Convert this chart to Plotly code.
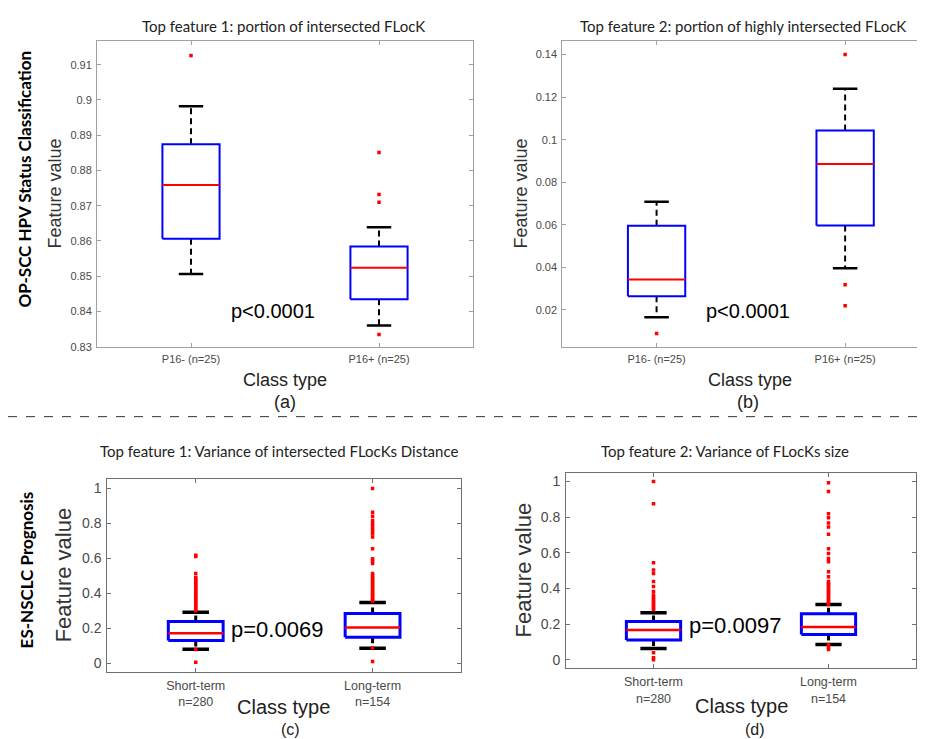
import plotly.graph_objects as go

# ---------------- data ----------------
A_CATS = ["P16- (n=25)", "P16+ (n=25)"]
A_Q1 = [0.8606, 0.8435]
A_MED = [0.8759, 0.8524]
A_Q3 = [0.8874, 0.8584]
A_LO = [0.8506, 0.8360]
A_HI = [0.8982, 0.8639]
A_OUT = [[0.9126], [0.8851, 0.8732, 0.8710, 0.8335]]

B_CATS = ["P16- (n=25)", "P16+ (n=25)"]
B_Q1 = [0.0264, 0.0597]
B_MED = [0.0343, 0.0886]
B_Q3 = [0.0596, 0.1043]
B_LO = [0.0166, 0.0396]
B_HI = [0.0708, 0.1239]
B_OUT = [[0.0089], [0.140, 0.0318, 0.022]]

C_CATS = ["Short-term<br>n=280", "Long-term<br>n=154"]
C_Q1 = [0.1288, 0.1477]
C_MED = [0.1705, 0.2045]
C_Q3 = [0.2386, 0.284]
C_LO = [0.0795, 0.0852]
C_HI = [0.2917, 0.3466]
C_OUT = [
    [0.617, 0.61, 0.513, 0.49, 0.48, 0.47, 0.46, 0.45, 0.44, 0.43, 0.42, 0.41,
     0.40, 0.39, 0.38, 0.37, 0.36, 0.35, 0.34, 0.33, 0.32, 0.31, 0.30, 0.078, 0.005],
    [1.0, 0.864, 0.84, 0.816, 0.80, 0.788, 0.77, 0.759, 0.74, 0.722, 0.655, 0.598,
     0.585, 0.570, 0.513, 0.50, 0.49, 0.48, 0.47, 0.46, 0.45, 0.44, 0.43, 0.42,
     0.41, 0.40, 0.39, 0.38, 0.37, 0.36, 0.355, 0.087, 0.01],
]

D_CATS = ["Short-term<br>n=280", "Long-term<br>n=154"]
D_Q1 = [0.111, 0.141]
D_MED = [0.167, 0.184]
D_Q3 = [0.215, 0.258]
D_LO = [0.063, 0.085]
D_HI = [0.263, 0.310]
D_OUT = [
    [1.0, 0.874, 0.544, 0.503, 0.484, 0.438, 0.41, 0.382, 0.363, 0.35, 0.34, 0.33,
     0.32, 0.31, 0.30, 0.29, 0.28, 0.039, 0.011, 0.0],
    [0.993, 0.944, 0.818, 0.796, 0.766, 0.744, 0.703, 0.623, 0.595, 0.568, 0.549,
     0.494, 0.466, 0.438, 0.428, 0.42, 0.41, 0.40, 0.39, 0.38, 0.37, 0.36, 0.35,
     0.34, 0.33, 0.32, 0.31, 0.085, 0.07, 0.057],
]

TITLES = [
    "Top feature 1: portion of intersected FLocK",
    "Top feature 2: portion of highly intersected FLocK",
    "Top feature 1: Variance of intersected FLocKs Distance",
    "Top feature 2: Variance of FLocKs size",
]
PVALS = ["p<0.0001", "p<0.0001", "p=0.0069", "p=0.0097"]
LETTERS = ["(a)", "(b)", "(c)", "(d)"]

W, H = 925, 739
fig = go.Figure()


def add_boxplot(ax, q1, med, q3, lo, hi, outs, bw, cw, lw, msize):
    xa = "x" if ax == 1 else f"x{ax}"
    ya = "y" if ax == 1 else f"y{ax}"
    bx, by, mx, my, wx, wy, cx, cy, ox, oy = [], [], [], [], [], [], [], [], [], []
    for i in range(len(q1)):
        p = i + 1
        bx += [p - bw, p + bw, p + bw, p - bw, p - bw, None]
        by += [q1[i], q1[i], q3[i], q3[i], q1[i], None]
        mx += [p - bw, p + bw, None]
        my += [med[i], med[i], None]
        wx += [p, p, None, p, p, None]
        wy += [q3[i], hi[i], None, q1[i], lo[i], None]
        cx += [p - cw, p + cw, None, p - cw, p + cw, None]
        cy += [hi[i], hi[i], None, lo[i], lo[i], None]
        for v in outs[i]:
            ox.append(p)
            oy.append(v)
    common = dict(xaxis=xa, yaxis=ya, showlegend=False, hoverinfo="skip")
    fig.add_trace(go.Scatter(x=wx, y=wy, mode="lines",
                             line=dict(color="black", width=lw, dash="6px,4px"), **common))
    fig.add_trace(go.Scatter(x=cx, y=cy, mode="lines",
                             line=dict(color="black", width=lw + 0.5), **common))
    fig.add_trace(go.Scatter(x=bx, y=by, mode="lines", fill="toself", fillcolor="white",
                             line=dict(color="#0000ff", width=lw), **common))
    fig.add_trace(go.Scatter(x=mx, y=my, mode="lines",
                             line=dict(color="#ff0000", width=lw - 0.5 if lw > 2 else lw), **common))
    fig.add_trace(go.Scatter(x=ox, y=oy, mode="markers",
                             marker=dict(color="#ff0000", size=msize, symbol="square"), **common))


add_boxplot(1, A_Q1, A_MED, A_Q3, A_LO, A_HI, A_OUT, 0.152, 0.065, 2, 3.5)
add_boxplot(2, B_Q1, B_MED, B_Q3, B_LO, B_HI, B_OUT, 0.152, 0.065, 2, 3.5)
add_boxplot(3, C_Q1, C_MED, C_Q3, C_LO, C_HI, C_OUT, 0.155, 0.075, 3, 3.5)
add_boxplot(4, D_Q1, D_MED, D_Q3, D_LO, D_HI, D_OUT, 0.155, 0.075, 3, 3.5)


def dom_x(a, b):
    return [a / W, min(b / W, 1.0)]


def dom_y(top, bot):
    return [1 - bot / H, 1 - top / H]


TICKCOL = "#4a4a4a"
axis_specs = [
    dict(xd=(89, 465), yd=(33, 341.5), xr=[0.5, 2.5], yr=[0.83, 0.9168],
         ytv=[0.83, 0.84, 0.85, 0.86, 0.87, 0.88, 0.89, 0.9, 0.91],
         ytt=["0.83", "0.84", "0.85", "0.86", "0.87", "0.88", "0.89", "0.9", "0.91"],
         cats=A_CATS, yfs=11, xfs=11, lc="#a0a0a0", mirror_y="ticks"),
    dict(xd=(554.3, 925), yd=(33, 341.5), xr=[0.5, 2.466], yr=[0.0027, 0.1465],
         ytv=[0.02, 0.04, 0.06, 0.08, 0.1, 0.12, 0.14],
         ytt=["0.02", "0.04", "0.06", "0.08", "0.1", "0.12", "0.14"],
         cats=B_CATS, yfs=11, xfs=11, lc="#a0a0a0", mirror_y=False),
    dict(xd=(99.3, 453), yd=(475, 669.3), xr=[0.5, 2.5], yr=[-0.05, 1.053],
         ytv=[0, 0.2, 0.4, 0.6, 0.8, 1], ytt=["0", "0.2", "0.4", "0.6", "0.8", "1"],
         cats=C_CATS, yfs=14, xfs=12.5, lc="#707070", mirror_y="ticks"),
    dict(xd=(558, 908), yd=(469, 665.7), xr=[0.5, 2.5], yr=[-0.048, 1.046],
         ytv=[0, 0.2, 0.4, 0.6, 0.8, 1], ytt=["0", "0.2", "0.4", "0.6", "0.8", "1"],
         cats=D_CATS, yfs=14, xfs=12.5, lc="#707070", mirror_y="ticks"),
]

layout_axes = {}
for k, s in enumerate(axis_specs, start=1):
    xn = "xaxis" if k == 1 else f"xaxis{k}"
    yn = "yaxis" if k == 1 else f"yaxis{k}"
    ya = "y" if k == 1 else f"y{k}"
    xa = "x" if k == 1 else f"x{k}"
    layout_axes[xn] = dict(
        domain=dom_x(*s["xd"]), range=s["xr"], anchor=ya,
        tickvals=[1, 2], ticktext=s["cats"], showgrid=False, zeroline=False,
        showline=True, linecolor=s["lc"], linewidth=1, mirror="ticks",
        ticks="inside", ticklen=4, tickcolor=s["lc"],
        tickfont=dict(family="Liberation Sans, Arial", size=s["xfs"], color=TICKCOL),
        ticklabelstandoff=2, fixedrange=True,
    )
    layout_axes[yn] = dict(
        domain=dom_y(*s["yd"]), range=s["yr"], anchor=xa,
        tickvals=s["ytv"], ticktext=s["ytt"], showgrid=False, zeroline=False,
        showline=True, linecolor=s["lc"], linewidth=1, mirror=s["mirror_y"],
        ticks="inside", ticklen=4, tickcolor=s["lc"],
        tickfont=dict(family="Liberation Sans, Arial", size=s["yfs"], color=TICKCOL),
        ticklabelstandoff=2, fixedrange=True,
    )

annotations = []


def ann(text, xpx, ypx, size, color="black", angle=0, family="Liberation Sans, Arial"):
    annotations.append(dict(
        text=text, x=xpx / W, y=1 - ypx / H, xref="paper", yref="paper",
        xanchor="center", yanchor="middle", showarrow=False, textangle=angle,
        font=dict(family=family, size=size, color=color),
    ))


TFONT = "Lato, Open Sans, sans-serif"
# panel titles
ann(TITLES[0], 275, 18, 15, "#222", family=TFONT)
ann(TITLES[1], 735, 18, 15, "#222", family=TFONT)
ann(TITLES[2], 271, 447, 15, "#222", family=TFONT)
ann(TITLES[3], 717, 447, 15, "#222", family=TFONT)

# y labels
ann("Feature value", 47, 187, 18, "#333", angle=-90)
ann("Feature value", 513, 187, 18, "#333", angle=-90)
ann("Feature value", 55, 572, 22, "#333", angle=-90)
ann("Feature value", 515, 567, 22, "#333", angle=-90)

# x labels
ann("Class type", 277, 375, 18, "#222")
ann("Class type", 742, 375, 18, "#222")
ann("Class type", 275, 705, 20, "#222")
ann("Class type", 733, 704, 20, "#222")

# letters
ann(LETTERS[0], 277, 397, 18, "#222")
ann(LETTERS[1], 740, 397, 18, "#222")
ann(LETTERS[2], 282, 727, 16, "#222")
ann(LETTERS[3], 747, 727, 16, "#222")

# p-values
ann(PVALS[0], 265, 305, 20, "black")
ann(PVALS[1], 740, 305, 20, "black")
ann(PVALS[2], 269, 627, 22, "black")
ann(PVALS[3], 727, 623, 22, "black")

# row labels
ann("<b>OP-SCC HPV Status Classification</b>", 17, 173, 17, "black", angle=-90, family=TFONT)
ann("<b>ES-NSCLC Prognosis</b>", 18, 567, 17, "black", angle=-90, family=TFONT)

fig.update_layout(
    width=W, height=H, margin=dict(l=0, r=0, t=0, b=0),
    paper_bgcolor="white", plot_bgcolor="white",
    annotations=annotations,
    shapes=[dict(type="line", xref="paper", yref="paper", x0=0, x1=1,
                 y0=1 - 412 / H, y1=1 - 412 / H,
                 line=dict(color="#333", width=1, dash="dash"))],
    **layout_axes,
)

fig.write_html("out.html")
